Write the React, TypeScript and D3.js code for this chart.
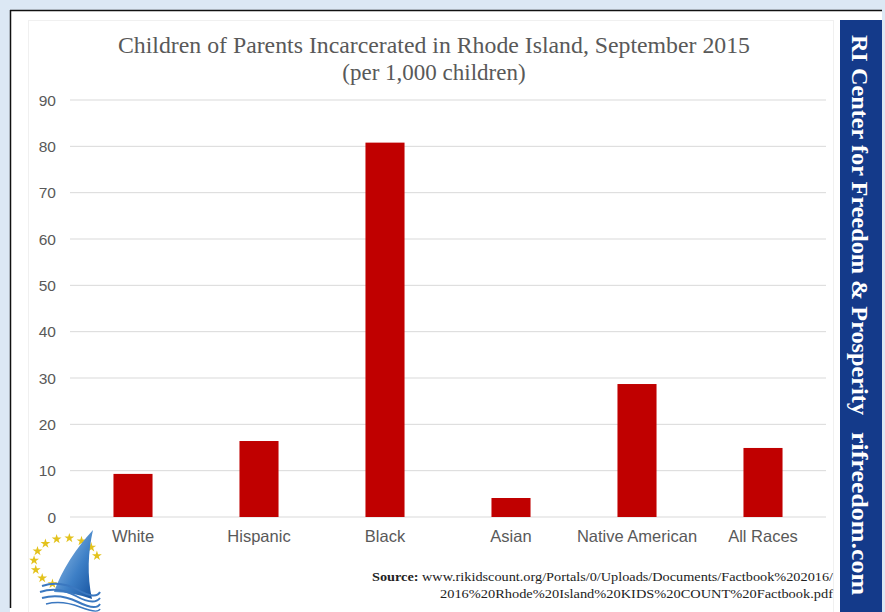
import React from "react";
import * as d3 from "d3";

const categories = ["White", "Hispanic", "Black", "Asian", "Native American", "All Races"];
const values = [9.3, 16.4, 80.8, 4.1, 28.7, 14.9];
const yTicks = [0, 10, 20, 30, 40, 50, 60, 70, 80, 90];
const titleLines = ["Children of Parents Incarcerated in Rhode Island, September 2015", "(per 1,000 children)"];
const bannerText = ["RI Center for Freedom & Prosperity", "rifreedom.com"];
const sourceLines = ["www.rikidscount.org/Portals/0/Uploads/Documents/Factbook%202016/", "2016%20Rhode%20Island%20KIDS%20COUNT%20Factbook.pdf"];

const W = 885, H = 612;
const plot = { left: 70, right: 826, top: 100, bottom: 517 };

export default function App() {
  const x = d3.scaleBand<string>().domain(categories).range([plot.left, plot.right]).paddingInner(0.69).paddingOuter(0.345);
  const y = d3.scaleLinear().domain([0, 90]).range([plot.bottom, plot.top]);
  const serif = "'Liberation Serif', 'Times New Roman', serif";
  const sans = "'Liberation Sans', Arial, sans-serif";

  const starAngles = d3.range(11).map((i) => 15 + i * 23);
  const starPath = d3.symbol().type(d3.symbolStar).size(30)() as string;

  return (
    <svg width={W} height={H} style={{ position: "absolute", left: 0, top: 0 }}>
      <rect x={0} y={0} width={W} height={H} fill="#dce8f4" />
      <rect x={10} y={10} width={872} height={H - 10} fill="#ffffff" />
      <line x1={10} y1={10.5} x2={882} y2={10.5} stroke="#111" strokeWidth={1.5} />
      <line x1={10.5} y1={10} x2={10.5} y2={608} stroke="#111" strokeWidth={1.5} />
      <rect x={28.5} y={20.5} width={805} height={600} fill="none" stroke="#f0f0f0" />

      <text x={434} y={53} textAnchor="middle" fontFamily={serif} fontSize={23} fill="#595959" textLength={632} lengthAdjust="spacingAndGlyphs">{titleLines[0]}</text>
      <text x={434} y={80} textAnchor="middle" fontFamily={serif} fontSize={23} fill="#595959">{titleLines[1]}</text>

      {yTicks.map((t) => (
        <g key={t}>
          <line x1={plot.left} x2={plot.right} y1={y(t)} y2={y(t)} stroke="#d9d9d9" strokeWidth={1} />
          <text x={56} y={y(t) + 5.5} textAnchor="end" fontFamily={sans} fontSize={15.5} fill="#595959">{t}</text>
        </g>
      ))}

      {categories.map((c, i) => (
        <g key={c}>
          <rect x={x(c)} y={y(values[i])} width={x.bandwidth()} height={y(0) - y(values[i])} fill="#c00000" />
          <text x={(x(c) as number) + x.bandwidth() / 2} y={542} textAnchor="middle" fontFamily={sans} fontSize={16.5} fill="#595959">{c}</text>
        </g>
      ))}

      <text x={833} y={581} textAnchor="end" fontFamily={serif} fontSize={13.5} fill="#222" textLength={461} lengthAdjust="spacingAndGlyphs">
        <tspan fontWeight="bold">Source: </tspan>{sourceLines[0]}
      </text>
      <text x={833} y={598} textAnchor="end" fontFamily={serif} fontSize={13.5} fill="#222" textLength={393} lengthAdjust="spacingAndGlyphs">{sourceLines[1]}</text>

      {/* banner */}
      <rect x={840} y={20} width={42} height={H - 20} fill="#143a8a" />
      <g transform="translate(852,0) rotate(90)">
        <text x={35} y={0} fontFamily={serif} fontWeight="bold" fontSize={23} fill="#ffffff" textLength={380} lengthAdjust="spacingAndGlyphs">{bannerText[0]}</text>
        <text x={432} y={0} fontFamily={serif} fontWeight="bold" fontSize={23} fill="#ffffff" textLength={163} lengthAdjust="spacingAndGlyphs">{bannerText[1]}</text>
      </g>

      {/* logo */}
      <g>
        {starAngles.map((a, i) => {
          const rad = (a * Math.PI) / 180;
          return (
            <path key={i} d={starPath} transform={`translate(${66 + 32 * Math.cos(rad)},${562 - 24 * Math.sin(rad)})`} fill="#e3c21c" />
          );
        })}
        <defs>
          <linearGradient id="sail" x1="0" y1="0" x2="1" y2="1">
            <stop offset="0" stopColor="#a9cdee" />
            <stop offset="0.6" stopColor="#3d7fc6" />
            <stop offset="1" stopColor="#16529e" />
          </linearGradient>
        </defs>
        <path d="M93,530 C76,548 62,570 54,592 Q72,592 92,599 C87,575 88,552 93,530 Z" fill="url(#sail)" />
        <path d="M42,586 Q60,580 78,590 T100,592" fill="none" stroke="#3b78c0" strokeWidth={2} />
        <path d="M40,592 Q58,586 76,596 T100,598" fill="none" stroke="#3b78c0" strokeWidth={2} />
        <path d="M42,598 Q60,593 78,602 T100,604" fill="none" stroke="#3b78c0" strokeWidth={2} />
        <path d="M46,604 Q62,600 80,607 T100,609" fill="none" stroke="#3b78c0" strokeWidth={1.5} />
      </g>
    </svg>
  );
}
